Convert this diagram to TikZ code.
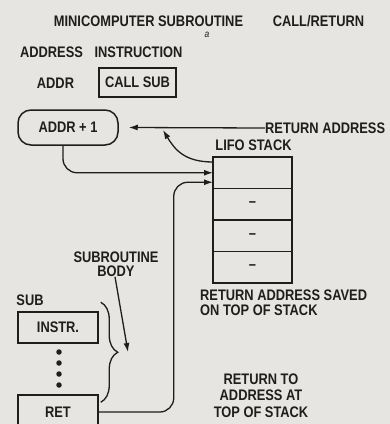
\documentclass[tikz,border=0pt]{standalone}
\usepackage{fontspec}
\setmainfont{Liberation Sans}[FakeStretch=0.84]
\usetikzlibrary{arrows.meta,decorations.pathreplacing}
\definecolor{paper}{RGB}{231,229,225}
\definecolor{ink}{RGB}{30,30,30}
\begin{document}
\begin{tikzpicture}[
    x=1pt, y=-1pt,
    every node/.style={
        font=\bfseries\fontsize{15.3}{15.3}\selectfont,
        text=ink,
        inner sep=0pt
    },
    box/.style={draw=ink, line width=1.5pt, minimum width=80pt, minimum height=31pt},
    cell/.style={draw=ink, line width=1.6pt, minimum width=79pt, minimum height=31.5pt, outer sep=0pt},
    dot/.style={circle, fill=ink, minimum size=5.5pt},
    link/.style={draw=ink, line width=1.3pt, -{Latex[length=9pt,width=6pt]}}
]
\useasboundingbox[fill=paper] (0,0) rectangle (390,424);

\node (title) at (148.5,21) {MINICOMPUTER SUBROUTINE};
\node (callret) at (318.5,21) {CALL/RETURN};
\node[font=\itshape\fontsize{10}{10}\selectfont] (part) at (207,35) {a};
\node (address) at (51.5,52) {ADDRESS};
\node (instruction) at (138.5,52) {INSTRUCTION};
\node (addrlbl) at (55.5,83) {ADDR};
\node[box, minimum width=77pt, minimum height=29pt] (call) at (137.5,82.5) {CALL SUB};
\node[box, rounded corners=13pt, minimum width=100pt, minimum height=35pt] (addr) at (68,127.5) {ADDR + 1};
\node[anchor=west] (raddr) at (265,128) {RETURN ADDRESS};
\node (lifo) at (253.5,145.5) {LIFO STACK};
\foreach \i/\t in {1/,2/--,3/--,4/--}
    \node[cell] (s\i) at (252.5,141.25+31.5*\i) {\t};
\node[anchor=west, align=left] (saved) at (200,302.5) {RETURN ADDRESS SAVED\\ON TOP OF STACK};
\node[align=center] (body) at (116,264) {SUBROUTINE\\[-1pt]BODY};
\node (sub) at (30,300) {SUB};
\node[box] (instr) at (58,327.5) {INSTR.};
\foreach \y in {352,363,374,385}
    \node[dot] (d\y) at (59,\y) {};
\node[box, minimum height=34pt] (ret) at (58,412) {RET};
\node[align=center, font=\bfseries\fontsize{15.3}{16.5}\selectfont] (back) at (261,395.5) {RETURN TO\\ADDRESS AT\\TOP OF STACK};

\coordinate (rtip) at (163,130);
\coordinate (btip) at (128,352);

\draw[link] (raddr.west) -- ([xshift=10pt]addr.east);
\draw[link] ([yshift=-5pt]s1.north west) .. controls +(-28,0) and +(12,20) .. (rtip);
\draw[link, rounded corners=14pt] ([xshift=-5pt]addr.south) |- (s1.west);
\draw[link, rounded corners=14pt] (ret.east) -- ++(75,0) |- ([yshift=-9.5pt]s1.west);
\draw[link] ([xshift=-1pt]body.south) -- (btip);
\draw[ink, line width=1.3pt, decorate, decoration={brace, amplitude=17pt}]
    ([shift={(2,-9)}]instr.north east) -- ([shift={(2,8)}]ret.north east);
\end{tikzpicture}
\end{document}
